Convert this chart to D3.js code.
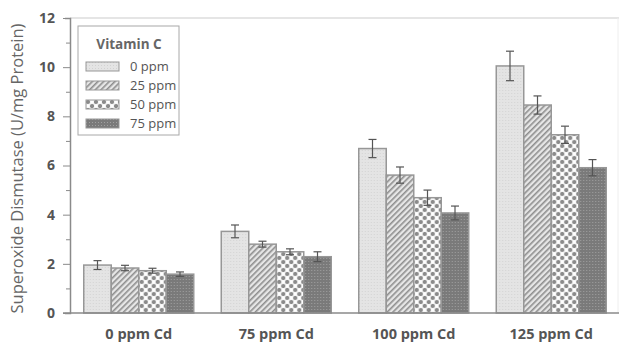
<!DOCTYPE html>
<meta charset="utf-8">
<style>
  body { margin: 0; background: #fff; }
  text { font-family: "Open Sans", "Noto Sans", sans-serif; }
</style>
<body>
<div class="chart"></div>
<script src="https://d3js.org/d3.v7.min.js"></script>
<script>
    // data
    const groups = ["0 ppm Cd", "75 ppm Cd", "100 ppm Cd", "125 ppm Cd"];
    const doses = ["0 ppm", "25 ppm", "50 ppm", "75 ppm"];
    const sodMean = [
        [1.95, 1.83, 1.72, 1.58],
        [3.32, 2.80, 2.49, 2.29],
        [6.69, 5.61, 4.69, 4.07],
        [10.05, 8.46, 7.25, 5.91]
    ];
    const sodErr = [
        [0.18, 0.11, 0.10, 0.09],
        [0.26, 0.12, 0.12, 0.20],
        [0.37, 0.33, 0.31, 0.28],
        [0.60, 0.37, 0.35, 0.33]
    ];
    const yTicks = [0, 2, 4, 6, 8, 10, 12];

    const width = 619, height = 342;
    const margin = {top: 18, right: -1, bottom: 29, left: 70};

    let svg = d3.select(".chart").append("svg")
        .attr("width", width)
        .attr("height", height);

    // patterns for the four vitamin C doses
    let defs = svg.append("defs");

    let p0 = defs.append("pattern").attr("id", "pat0")
        .attr("width", 3).attr("height", 3).attr("patternUnits", "userSpaceOnUse");
    p0.append("rect").attr("width", 3).attr("height", 3).attr("fill", "#e4e4e4");
    p0.append("rect").attr("width", 1).attr("height", 1).attr("fill", "#d2d2d2");

    let p1 = defs.append("pattern").attr("id", "pat1")
        .attr("width", 4).attr("height", 4).attr("patternUnits", "userSpaceOnUse")
        .attr("patternTransform", "rotate(45)");
    p1.append("rect").attr("width", 4).attr("height", 4).attr("fill", "#e6e6e6");
    p1.append("rect").attr("width", 1.6).attr("height", 4).attr("fill", "#8e8e8e");

    let p2 = defs.append("pattern").attr("id", "pat2")
        .attr("width", 8).attr("height", 8).attr("patternUnits", "userSpaceOnUse");
    p2.append("rect").attr("width", 8).attr("height", 8).attr("fill", "#f4f4f4");
    [[2, 2], [6, 6]].forEach(c => {
        p2.append("circle").attr("cx", c[0]).attr("cy", c[1]).attr("r", 2.1).attr("fill", "#8a8a8a");
    });
    [[6, 2], [2, 6]].forEach(c => {
        p2.append("circle").attr("cx", c[0]).attr("cy", c[1]).attr("r", 1.4).attr("fill", "#ffffff");
    });

    let p3 = defs.append("pattern").attr("id", "pat3")
        .attr("width", 3).attr("height", 3).attr("patternUnits", "userSpaceOnUse");
    p3.append("rect").attr("width", 3).attr("height", 3).attr("fill", "#7a7a7a");
    p3.append("rect").attr("width", 1).attr("height", 1).attr("fill", "#a0a0a0");

    const fills = ["url(#pat0)", "url(#pat1)", "url(#pat2)", "url(#pat3)"];

    let x0 = d3.scaleBand()
        .domain(groups)
        .range([margin.left, width - margin.right])
        .paddingInner(0.2)
        .paddingOuter(0.1);

    let x1 = d3.scaleBand()
        .domain(doses)
        .range([0, x0.bandwidth()]);

    let y = d3.scaleLinear()
        .domain([0, 12])
        .range([height - margin.bottom, margin.top]);

    // plot frame (top and right)
    svg.append("line")
        .attr("x1", margin.left).attr("x2", width)
        .attr("y1", margin.top).attr("y2", margin.top)
        .attr("stroke", "#dcdcdc").attr("stroke-width", 1.5);
    svg.append("line")
        .attr("x1", width - 1).attr("x2", width - 1)
        .attr("y1", margin.top).attr("y2", y(0))
        .attr("stroke", "#eeeeee");

    // bars
    let g = svg.selectAll("g.group")
        .data(groups)
        .join("g")
        .attr("class", "group")
        .attr("transform", d => `translate(${x0(d)},0)`);

    g.selectAll("rect")
        .data((d, i) => doses.map((s, j) => ({s: s, j: j, v: sodMean[i][j], e: sodErr[i][j]})))
        .join("rect")
        .attr("x", d => x1(d.s))
        .attr("y", d => y(d.v))
        .attr("width", x1.bandwidth())
        .attr("height", d => y(0) - y(d.v))
        .attr("fill", d => fills[d.j])
        .attr("stroke", "#979797")
        .attr("stroke-width", 1.5);

    // error bars
    let eb = g.selectAll("g.err")
        .data((d, i) => doses.map((s, j) => ({s: s, v: sodMean[i][j], e: sodErr[i][j]})))
        .join("g")
        .attr("class", "err")
        .attr("stroke", "#555")
        .attr("stroke-width", 1.2);
    eb.append("line")
        .attr("x1", d => x1(d.s) + x1.bandwidth() / 2)
        .attr("x2", d => x1(d.s) + x1.bandwidth() / 2)
        .attr("y1", d => y(d.v + d.e))
        .attr("y2", d => y(d.v - d.e));
    eb.append("line")
        .attr("x1", d => x1(d.s) + x1.bandwidth() / 2 - 4)
        .attr("x2", d => x1(d.s) + x1.bandwidth() / 2 + 4)
        .attr("y1", d => y(d.v + d.e))
        .attr("y2", d => y(d.v + d.e));
    eb.append("line")
        .attr("x1", d => x1(d.s) + x1.bandwidth() / 2 - 4)
        .attr("x2", d => x1(d.s) + x1.bandwidth() / 2 + 4)
        .attr("y1", d => y(d.v - d.e))
        .attr("y2", d => y(d.v - d.e));

    // y axis
    let yAxis = svg.append("g")
        .attr("transform", `translate(${margin.left},0)`)
        .call(d3.axisLeft(y).tickValues(d3.range(0, 13, 1)).tickSize(5)
            .tickFormat(d => yTicks.includes(d) ? d : ""));
    yAxis.select(".domain").attr("stroke", "#8a8a8a").attr("stroke-width", 1.5);
    yAxis.selectAll(".tick line").attr("stroke", "#8a8a8a")
        .attr("x2", d => yTicks.includes(d) ? -7 : -4);
    yAxis.selectAll(".tick text")
        .attr("x", -15)
        .attr("fill", "#555")
        .style("font-size", "14px")
        .style("font-weight", "bold");

    // x axis
    let xAxis = svg.append("g")
        .attr("transform", `translate(0,${y(0)})`)
        .call(d3.axisBottom(x0).tickSize(0));
    xAxis.select(".domain").attr("stroke", "#8a8a8a").attr("stroke-width", 1.5)
        .attr("d", `M${margin.left - 7},0H${width}`);
    xAxis.selectAll(".tick text")
        .attr("y", 16)
        .attr("fill", "#555")
        .style("font-size", "14.5px")
        .style("font-weight", "bold");

    // y axis title
    svg.append("text")
        .attr("transform", `translate(23,${(margin.top + y(0)) / 2 + 3}) rotate(-90)`)
        .attr("text-anchor", "middle")
        .attr("fill", "#666")
        .style("font-size", "16.5px")
        .text("Superoxide Dismutase (U/mg Protein)");

    // legend
    let legend = svg.append("g").attr("transform", "translate(78,26)");
    legend.append("rect")
        .attr("width", 101).attr("height", 109)
        .attr("fill", "#fff")
        .attr("stroke", "#a8a8a8");
    legend.append("text")
        .attr("x", 51).attr("y", 23)
        .attr("text-anchor", "middle")
        .attr("fill", "#666")
        .style("font-size", "13.5px")
        .style("font-weight", "bold")
        .text("Vitamin C");
    let item = legend.selectAll("g.item")
        .data(doses)
        .join("g")
        .attr("class", "item")
        .attr("transform", (d, i) => `translate(8,${36 + i * 19})`);
    item.append("rect")
        .attr("width", 33).attr("height", 9)
        .attr("fill", (d, i) => fills[i])
        .attr("stroke", "#979797");
    item.append("text")
        .attr("x", 44).attr("y", 9)
        .attr("fill", "#555")
        .style("font-size", "13px")
        .text(d => d);
</script>
</body>
